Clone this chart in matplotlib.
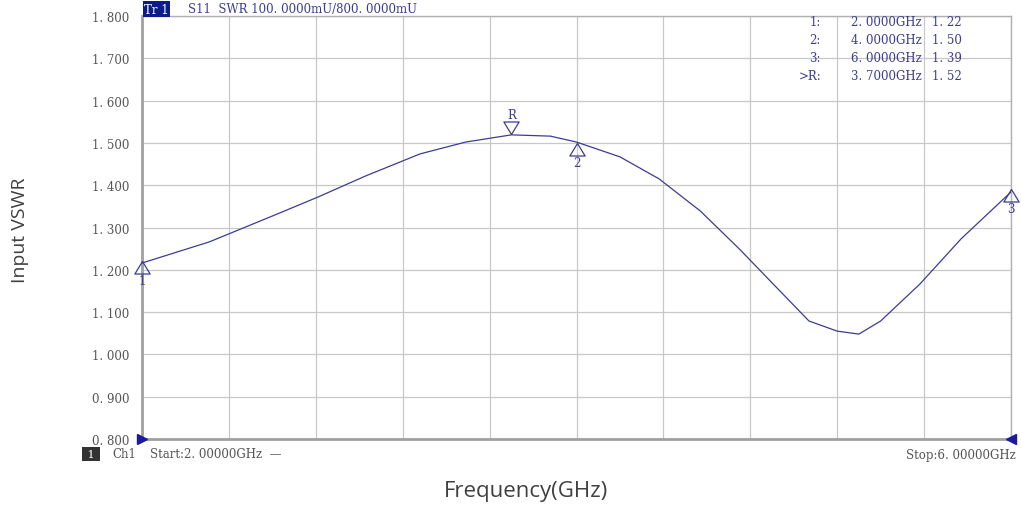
import matplotlib.pyplot as plt
import numpy as np
from matplotlib.path import Path

# trace
freq = [2.00, 2.31, 2.59, 2.81, 3.03, 3.28, 3.49, 3.70, 3.88, 4.00, 4.20,
        4.38, 4.57, 4.75, 4.94, 5.07, 5.20, 5.30, 5.40, 5.58, 5.77, 6.00]
vswr = [1.216, 1.266, 1.325, 1.372, 1.422, 1.474, 1.502, 1.519, 1.516, 1.502,
        1.467, 1.415, 1.339, 1.249, 1.148, 1.079, 1.055, 1.048, 1.079, 1.166,
        1.273, 1.384]

mk_names = ['1', '2', '3', 'R']
mk_freq = [2.0, 4.0, 6.0, 3.7]
mk_val = [1.22, 1.50, 1.39, 1.52]
mk_up = [True, True, True, False]

yticks = [0.8, 0.9, 1.0, 1.1, 1.2, 1.3, 1.4, 1.5, 1.6, 1.7, 1.8]
ytlabels = ['0. 800', '0. 900', '1. 000', '1. 100', '1. 200', '1. 300',
            '1. 400', '1. 500', '1. 600', '1. 700', '1. 800']

trace = '#3c3c94'
grey_txt = '#555555'
mono = ['DejaVu Serif']

fig = plt.figure(figsize=(10.21, 5.10), dpi=100)
ax = fig.add_axes([142/1021, 70/510, 869/1021, 423/510])

ax.plot(freq, vswr, color=trace, lw=0.9, zorder=3)

ax.set_xlim(2, 6)
ax.set_ylim(0.8, 1.8)
ax.set_xticks(np.linspace(2, 6, 11))
ax.set_xticklabels([])
ax.set_yticks(yticks)
ax.set_yticklabels(ytlabels, family=mono, fontsize=8.5, color=grey_txt)
ax.tick_params(length=0, pad=9)
ax.grid(True, color='#c8c8c8', lw=0.9)
for s in ['top', 'right']:
    ax.spines[s].set_color('#b0b0b0')
    ax.spines[s].set_linewidth(1.0)
for s in ['left', 'bottom']:
    ax.spines[s].set_color('#a0a0a0')
    ax.spines[s].set_linewidth(2.0)

# triangle markers with apex on the trace
up_tri = Path([(0, 0), (-0.55, -0.9), (0.55, -0.9), (0, 0)])
down_tri = Path([(0, 0), (-0.55, 0.9), (0.55, 0.9), (0, 0)])
for name, f, v, up in zip(mk_names, mk_freq, mk_val, mk_up):
    ax.plot([f], [v], marker=up_tri if up else down_tri, ms=18, mfc='none',
            mec=trace, mew=0.9, clip_on=False, zorder=4)
    off = -14 if up else 14
    ax.annotate(name, (f, v), xytext=(0, off), textcoords='offset points',
                ha='center', va='center', family=mono, fontsize=8.5,
                color=trace, annotation_clip=False)

# scale end arrows
ax.plot([2.0], [0.8], marker='>', ms=7, color='#1a1aa0', clip_on=False,
        zorder=5)
ax.plot([6.0], [0.8], marker='<', ms=7, color='#1a1aa0', clip_on=False,
        zorder=5)

# header
fig.text(144/1021, 1 - 10/510, 'Tr 1', family=mono, fontsize=8.5,
         color='white', va='center', ha='left',
         bbox=dict(boxstyle='square,pad=0.1', fc='#0c1a8a', ec='none'))
fig.text(188/1021, 1 - 9/510, 'S11  SWR 100. 0000mU/800. 0000mU',
         family=mono, fontsize=8.5, color=trace, va='center', ha='left')

# marker table
rows_y = [22, 41, 59, 76]
for name, f, v, yy in zip(mk_names, mk_freq, mk_val, rows_y):
    lab = ('>R:' if name == 'R' else name + ':')
    fig.text(821/1021, 1 - yy/510, lab, family=mono, fontsize=8.5,
             color=trace, ha='right', va='center')
    fig.text(922/1021, 1 - yy/510, '%.0f. %sGHz' % (f // 1, ('%.4f' % f)[2:]),
             family=mono, fontsize=8.5, color=trace, ha='right', va='center')
    fig.text(932/1021, 1 - yy/510, '%.0f. %s' % (v // 1, ('%.2f' % v)[2:]),
             family=mono, fontsize=8.5, color=trace, ha='left', va='center')

# footer
fig.text(84/1021, 1 - 455/510, ' 1 ', family=mono, fontsize=8,
         color='white', va='center', ha='left',
         bbox=dict(boxstyle='square,pad=0.15', fc='#333333', ec='none'))
fig.text(112/1021, 1 - 455/510, 'Ch1', family=mono, fontsize=8.5,
         color=grey_txt, va='center', ha='left')
fig.text(150/1021, 1 - 455/510, 'Start:2. 00000GHz  \u2014',
         family=mono, fontsize=8.5, color=grey_txt, va='center', ha='left')
fig.text(1016/1021, 1 - 455/510, 'Stop:6. 00000GHz', family=mono,
         fontsize=8.5, color=grey_txt, va='center', ha='right')

fig.text(20/1021, 1 - 230/510, 'Input VSWR', family='Open Sans',
         fontsize=14, color='#404040', rotation=90, ha='center', va='center')
fig.text(526/1021, 1 - 492/510, 'Frequency(GHz)', family='Open Sans',
         fontsize=16, color='#404040', ha='center', va='center')

fig.savefig('out.png', dpi=100)
